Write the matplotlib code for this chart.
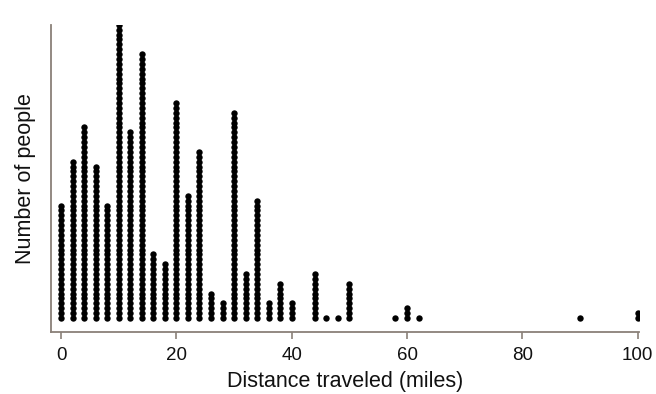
import matplotlib
matplotlib.use("Agg")
import matplotlib.pyplot as plt

plt.rcParams['font.family'] = ['Liberation Sans', 'DejaVu Sans']

# distance value (miles) and number of people at that value
distances = [0, 2, 4, 6, 8, 10, 12, 14, 16, 18, 20, 22, 24, 26, 28, 30, 32, 34,
             36, 38, 40, 44, 46, 48, 50, 58, 60, 62, 90, 100]
counts = [24, 33, 40, 32, 24, 61, 39, 55, 14, 12, 45, 26, 35, 6, 4, 43, 10, 25,
          4, 8, 4, 10, 1, 1, 8, 1, 3, 1, 1, 2]

xticks = [0, 20, 40, 60, 80, 100]

fig = plt.figure(figsize=(6.56, 3.94), dpi=100)
ax = fig.add_axes([0.0777, 0.157, 0.897, 0.78])

xs, ys = [], []
for d, c in zip(distances, counts):
    for k in range(c):
        xs.append(d)
        ys.append(k)
ax.plot(xs, ys, 'o', color='black', markersize=4.6, markeredgewidth=0)

spine_col = '#8a8078'
ax.set_xlim(-1.75, 100.3)
ax.set_ylim(-2.9, 60)
ax.spines['top'].set_visible(False)
ax.spines['right'].set_visible(False)
ax.spines['left'].set_color(spine_col)
ax.spines['bottom'].set_color(spine_col)
ax.spines['left'].set_linewidth(1.3)
ax.spines['bottom'].set_linewidth(1.3)
ax.set_yticks([])
ax.set_xticks(xticks)
ax.tick_params(axis='x', direction='out', length=5, width=1.2, color=spine_col,
               labelsize=13.5, pad=6, labelcolor='#111111')
ax.set_xlabel('Distance traveled (miles)', fontsize=15.5, labelpad=5, color='#111111')
ax.set_ylabel('Number of people', fontsize=15.5, labelpad=11, color='#111111')

fig.savefig('out.png', dpi=100)
